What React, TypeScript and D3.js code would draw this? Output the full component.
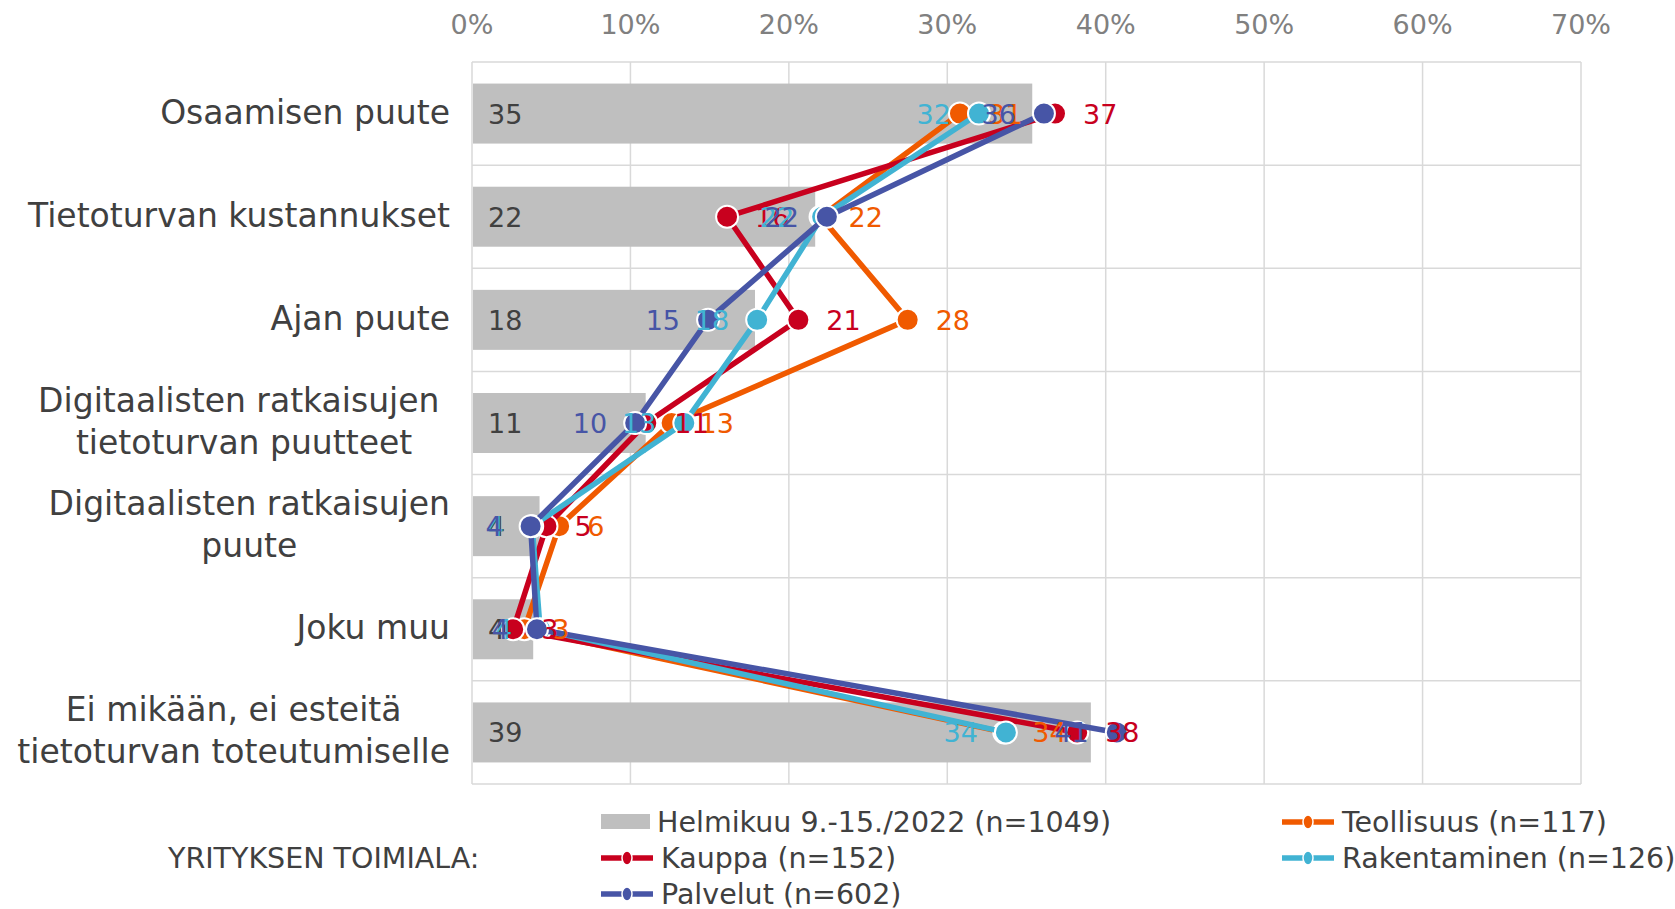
import React, { useRef, useEffect } from "react";
import * as d3 from "d3";

// categories (y axis), top to bottom; "|" marks a line break
const categories = [
  "Osaamisen puute",
  "Tietoturvan kustannukset",
  "Ajan puute",
  "Digitaalisten ratkaisujen |tietoturvan puutteet",
  "Digitaalisten ratkaisujen|puute",
  "Joku muu",
  "Ei mikään, ei esteitä|tietoturvan toteutumiselle",
];

// all respondents (bars), %
const totalValues = [35.3, 21.6, 17.8, 10.9, 4.2, 3.8, 39.0];

// industry series (lines), %
const teollisuus = [30.8, 22.0, 27.5, 12.6, 5.5, 3.3, 33.6];
const kauppa = [36.8, 16.1, 20.6, 11.0, 4.7, 2.6, 38.2];
const rakentaminen = [32.0, 22.1, 18.0, 13.4, 3.8, 4.3, 33.7];
const palvelut = [36.1, 22.4, 14.9, 10.3, 3.7, 4.1, 40.7];

const xTicks = [0, 10, 20, 30, 40, 50, 60, 70];

const series = [
  { name: "Teollisuus (n=117)", values: teollisuus, color: "#f05a00", side: "right" },
  { name: "Kauppa (n=152)", values: kauppa, color: "#c8001e", side: "right" },
  { name: "Rakentaminen (n=126)", values: rakentaminen, color: "#41b3d3", side: "left" },
  { name: "Palvelut (n=602)", values: palvelut, color: "#4755a6", side: "left" },
];

const barName = "Helmikuu 9.-15./2022 (n=1049)";

const App = () => {
  const ref = useRef<SVGSVGElement>(null);

  useEffect(() => {
    document.body.style.margin = "0";
    const svg = d3.select(ref.current);
    svg.selectAll("*").remove();

    const font = "'DejaVu Sans', Verdana, sans-serif";
    const textColor = "#404040";
    const left = 472, right = 1581, top = 62, bottom = 784;

    const x = d3.scaleLinear().domain([0, 70]).range([left, right]);
    const y = d3.scaleBand().domain(categories).range([top, bottom]);
    const cy = (c: string) => (y(c) as number) + y.bandwidth() / 2;

    const g = svg.append("g");

    // grid
    g.selectAll("line.vg")
      .data(xTicks)
      .enter()
      .append("line")
      .attr("x1", (d) => x(d))
      .attr("x2", (d) => x(d))
      .attr("y1", top)
      .attr("y2", bottom)
      .attr("stroke", "#d9d9d9")
      .attr("stroke-width", 1.5);

    g.selectAll("line.hg")
      .data(d3.range(categories.length + 1))
      .enter()
      .append("line")
      .attr("x1", left)
      .attr("x2", right)
      .attr("y1", (i) => top + i * y.bandwidth())
      .attr("y2", (i) => top + i * y.bandwidth())
      .attr("stroke", "#d9d9d9")
      .attr("stroke-width", 1.5);

    // x tick labels on top
    g.selectAll("text.xt")
      .data(xTicks)
      .enter()
      .append("text")
      .attr("x", (d) => x(d))
      .attr("y", 34)
      .attr("text-anchor", "middle")
      .style("font-family", font)
      .style("font-size", "27px")
      .style("fill", "#808080")
      .text((d) => `${d}%`);

    // category labels, centred block, right edge at 450
    categories.forEach((c) => {
      const lines = c.split("|");
      const lh = 42;
      const t = g
        .append("text")
        .style("font-family", font)
        .style("font-size", "33px")
        .style("fill", textColor)
        .style("white-space", "pre")
        .attr("text-anchor", "middle");
      lines.forEach((ln, i) => {
        t.append("tspan")
          .attr("x", 0)
          .attr("y", cy(c) + 10 + (i - (lines.length - 1) / 2) * lh)
          .text(ln);
      });
      let w = 0;
      t.selectAll<SVGTSpanElement, unknown>("tspan").each(function () {
        w = Math.max(w, this.getComputedTextLength());
      });
      t.selectAll("tspan").attr("x", 450 - w / 2);
    });

    // bars
    const barH = 60;
    g.selectAll("rect.bar")
      .data(totalValues)
      .enter()
      .append("rect")
      .attr("x", x(0) + 1)
      .attr("y", (d, i) => cy(categories[i]) - barH / 2)
      .attr("width", (d) => x(d) - x(0))
      .attr("height", barH)
      .attr("fill", "#bfbfbf");

    g.selectAll("text.barlbl")
      .data(totalValues)
      .enter()
      .append("text")
      .attr("x", x(0) + 16)
      .attr("y", (d, i) => cy(categories[i]) + 10)
      .style("font-family", font)
      .style("font-size", "27px")
      .style("fill", textColor)
      .text((d) => Math.round(d));

    // lines
    const line = d3
      .line<number>()
      .x((d) => x(d))
      .y((d, i) => cy(categories[i]));

    series.forEach((s) => {
      g.append("path")
        .attr("d", line(s.values))
        .attr("fill", "none")
        .attr("stroke", s.color)
        .attr("stroke-width", 5.5)
        .attr("stroke-linejoin", "round");
      g.selectAll(null)
        .data(s.values)
        .enter()
        .append("circle")
        .attr("cx", (d) => x(d))
        .attr("cy", (d, i) => cy(categories[i]))
        .attr("r", 11)
        .attr("fill", s.color)
        .attr("stroke", "#fff")
        .attr("stroke-width", 2);
    });

    // line value labels
    series.forEach((s) => {
      g.selectAll(null)
        .data(s.values)
        .enter()
        .append("text")
        .attr("x", (d) => x(d) + (s.side === "right" ? 28 : -28))
        .attr("y", (d, i) => cy(categories[i]) + 10)
        .attr("text-anchor", s.side === "right" ? "start" : "end")
        .style("font-family", font)
        .style("font-size", "27px")
        .style("fill", s.color)
        .text((d) => Math.round(d));
    });

    // legend
    const lg = svg.append("g").style("font-family", font).style("font-size", "28.5px").style("fill", textColor);
    lg.append("text").attr("x", 168).attr("y", 868).text("YRITYKSEN TOIMIALA:");

    lg.append("rect").attr("x", 601).attr("y", 814).attr("width", 49).attr("height", 15).attr("fill", "#bfbfbf");
    lg.append("text").attr("x", 657).attr("y", 832).text(barName);

    const legendPos = [
      { x: 1282, y: 822 },
      { x: 601, y: 858 },
      { x: 1282, y: 858 },
      { x: 601, y: 894 },
    ];
    series.forEach((s, i) => {
      const p = legendPos[i];
      lg.append("line")
        .attr("x1", p.x)
        .attr("x2", p.x + 52)
        .attr("y1", p.y)
        .attr("y2", p.y)
        .attr("stroke", s.color)
        .attr("stroke-width", 5.5);
      lg.append("ellipse")
        .attr("cx", p.x + 26)
        .attr("cy", p.y)
        .attr("rx", 5)
        .attr("ry", 7)
        .attr("fill", s.color)
        .attr("stroke", "#fff")
        .attr("stroke-width", 1.5);
      lg.append("text").attr("x", p.x + 60).attr("y", p.y + 10).text(s.name);
    });
  }, []);

  return <svg ref={ref} width={1675} height={909} style={{ display: "block" }}></svg>;
};

export default App;
